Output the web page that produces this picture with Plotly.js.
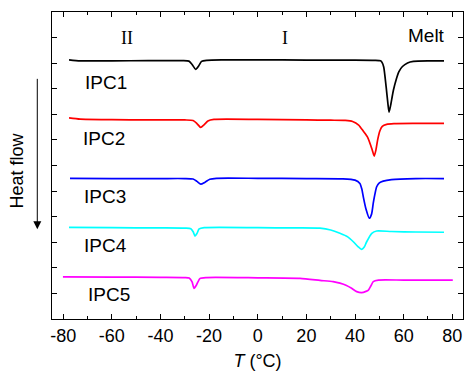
<!DOCTYPE html>
<html>
<head>
<meta charset="utf-8">
<script src="https://cdn.plot.ly/plotly-3.0.1.min.js"></script>
<style>html,body{margin:0;padding:0;background:#fff;}#chart{width:464px;height:371px;}</style>
</head>
<body>
<div id="chart"></div>
<script>
// Temperature (°C) and heat flow (arbitrary units, curves offset vertically)
const ipc1T = [-77.6,-73,-60,-45,-31,-28.3,-27,-25.5,-24.3,-23.1,-21,-15,0,20,40,48,50.5,51.1,51.8,52.8,53.5,54.0,54.6,55.8,57,58,59.5,61.6,64,70,76.6];
const ipc1H = [10.13,10.09,10.09,10.10,10.10,10.08,9.95,9.76,9.89,10.07,10.11,10.13,10.13,10.12,10.12,10.11,10.09,10.03,9.85,9.07,8.44,8.09,8.33,8.95,9.38,9.66,9.87,10.01,10.07,10.09,10.09];

const ipc2T = [-77.6,-73,-60,-45,-30,-26.6,-25,-23.5,-22,-20.5,-18,0,20,30,36,39,41.5,43.5,45.2,46.4,47.2,47.9,48.6,49.3,50.2,51.2,53,56,65,76.6];
const ipc2H = [7.86,7.81,7.79,7.78,7.78,7.76,7.64,7.49,7.60,7.74,7.80,7.80,7.78,7.77,7.76,7.72,7.58,7.33,7.10,6.80,6.57,6.37,6.61,7.00,7.35,7.53,7.61,7.64,7.65,7.65];

const ipc3T = [-77.2,-60,-40,-30,-26.6,-25,-23.4,-21.8,-19.7,-17,0,20,35,40,42,42.8,43.4,44.5,45.9,46.8,47.5,48.2,48.9,50,51.6,55,65,76.6];
const ipc3H = [5.50,5.49,5.49,5.49,5.47,5.38,5.27,5.34,5.46,5.50,5.50,5.49,5.48,5.43,5.30,5.08,4.78,4.30,3.94,4.10,4.53,4.89,5.17,5.32,5.39,5.45,5.49,5.49];

const ipc4T = [-77.6,-60,-40,-30,-27.5,-26.5,-25.8,-25,-24.1,-22,0,15,25.6,30,33.8,37,39.3,41.2,42.7,43.8,44.8,46.9,48.9,55,65,76.6];
const ipc4H = [3.58,3.57,3.56,3.55,3.53,3.40,3.24,3.34,3.52,3.57,3.57,3.56,3.55,3.48,3.35,3.21,3.02,2.83,2.72,2.81,3.02,3.35,3.44,3.42,3.40,3.39];

const ipc5T = [-80.1,-60,-40,-30,-28.2,-27,-26.2,-25.2,-23.8,-21,0,17.4,25.6,31,33.8,36.5,38.6,40.7,42.7,44.5,45.5,46.5,47.5,49.6,60,80.2];
const ipc5H = [1.65,1.64,1.63,1.62,1.60,1.45,1.20,1.33,1.58,1.62,1.61,1.59,1.51,1.46,1.40,1.31,1.20,1.07,1.03,1.08,1.13,1.29,1.46,1.52,1.52,1.52];

const seriesNames = ['IPC1','IPC2','IPC3','IPC4','IPC5'];
const seriesColors = ['#000000','#ff0000','#0000ff','#00ffff','#ff00ff'];
const xTickVals = [-80,-60,-40,-20,0,20,40,60,80];
const xTickText = ['-80','-60','-40','-20','0','20','40','60','80'];

const xs = [ipc1T, ipc2T, ipc3T, ipc4T, ipc5T];
const ys = [ipc1H, ipc2H, ipc3H, ipc4H, ipc5H];

const traces = xs.map((x, i) => ({
  x: x, y: ys[i], type: 'scatter', mode: 'lines', name: seriesNames[i],
  line: {color: seriesColors[i], width: 1.7, shape: 'spline', smoothing: 0.6},
  hoverinfo: 'skip'
}));

const sans = 'Arial, "Liberation Sans", sans-serif';
const serif = '"Times New Roman", "Liberation Serif", serif';

const labelPos = [[-62.4, 9.25], [-63.1, 7.06], [-62.8, 4.79], [-62.8, 2.89], [-61.2, 0.94]];
const annotations = seriesNames.map((n, i) => ({
  x: labelPos[i][0], y: labelPos[i][1], xref: 'x', yref: 'y', text: n, showarrow: false,
  font: {family: sans, size: 19, color: '#000'}, xanchor: 'center', yanchor: 'middle'
}));
annotations.push(
  {x: -53.8, y: 11.0, xref: 'x', yref: 'y', text: 'II', showarrow: false, font: {family: serif, size: 18, color: '#000'}},
  {x: 11.2, y: 11.0, xref: 'x', yref: 'y', text: 'I', showarrow: false, font: {family: serif, size: 18, color: '#000'}},
  {x: 69.2, y: 11.1, xref: 'x', yref: 'y', text: 'Melt', showarrow: false, font: {family: sans, size: 19, color: '#000'}},
  {x: -0.084, y: 0.485, xref: 'paper', yref: 'paper', text: 'Heat flow', textangle: -90, showarrow: false,
   xanchor: 'center', yanchor: 'middle', font: {family: sans, size: 18, color: '#000'}},
  {x: -0.0358, y: 0.292, xref: 'paper', yref: 'paper', text: '', showarrow: true, ax: 0, ay: -152,
   arrowhead: 2, arrowsize: 1.6, arrowwidth: 1, arrowcolor: '#000', standoff: 0}
);

const layout = {
  width: 464, height: 371,
  margin: {l: 52, r: 1, t: 12, b: 52},
  paper_bgcolor: '#fff', plot_bgcolor: '#fff',
  showlegend: false,
  font: {family: sans, size: 18, color: '#000'},
  xaxis: {
    range: [-84.6, 84.4], tickmode: 'array', tickvals: xTickVals, ticktext: xTickText,
    ticks: 'inside', ticklen: 5, tickwidth: 1, tickcolor: '#000',
    minor: {tickmode: 'linear', tick0: -80, dtick: 10, ticks: 'inside', ticklen: 3, tickcolor: '#000', showgrid: false},
    showline: true, linecolor: '#000', linewidth: 1, mirror: 'ticks',
    showgrid: false, zeroline: false,
    tickfont: {family: sans, size: 18, color: '#000'},
    title: {text: '<i>T</i> (°C)', font: {family: sans, size: 18, color: '#000'}, standoff: 11},
    automargin: false
  },
  yaxis: {
    range: [0, 12], dtick: 1, tick0: 0, showticklabels: false,
    ticks: 'inside', ticklen: 5, tickwidth: 1, tickcolor: '#000',
    showline: true, linecolor: '#000', linewidth: 1, mirror: 'ticks',
    showgrid: false, zeroline: false, automargin: false
  },
  annotations: annotations
};

Plotly.newPlot('chart', traces, layout, {displayModeBar: false, staticPlot: true});
</script>
</body>
</html>
